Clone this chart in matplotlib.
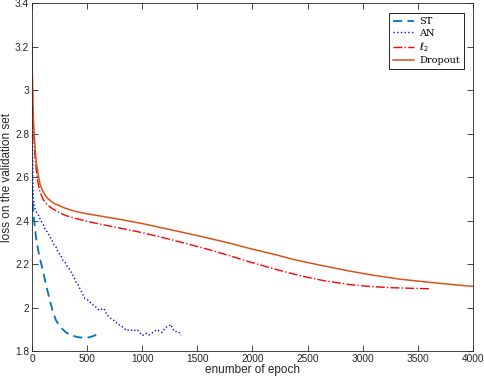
import numpy as np
import matplotlib.pyplot as plt

# ST (dashed)
st_epoch = [0, 10, 20, 40, 70, 100, 130, 160, 190, 220, 260, 300, 340, 375, 420, 460, 500, 530, 570, 600, 630]
st_loss = [2.55, 2.45, 2.40, 2.31, 2.23, 2.17, 2.10, 2.04, 1.98, 1.94, 1.91, 1.89, 1.876, 1.87, 1.864, 1.862, 1.862, 1.865, 1.872, 1.878, 1.883]

# AN (dotted, noisy)
an_epoch = [0, 5, 10, 20, 40, 60, 80, 100, 120, 140, 160, 180, 200, 220, 240, 260, 280, 300,
            320, 340, 360, 380, 400, 420, 440, 460, 480, 500, 520, 540, 560, 580, 600, 620,
            640, 660, 680, 700, 720, 740, 760, 780, 800, 820, 840, 860, 880, 900, 920, 940,
            960, 980, 1000, 1020, 1040, 1060, 1080, 1100, 1120, 1140, 1160, 1180, 1200, 1220,
            1240, 1260, 1280, 1300, 1320, 1340, 1355]
an_loss = [3.05, 2.75, 2.52, 2.465, 2.44, 2.425, 2.40, 2.385, 2.36, 2.348, 2.33, 2.312, 2.29,
           2.278, 2.252, 2.243, 2.218, 2.208, 2.19, 2.178, 2.158, 2.142, 2.118, 2.104, 2.082,
           2.063, 2.042, 2.038, 2.026, 2.022, 2.008, 2.003, 1.992, 1.988, 1.997, 1.99, 1.966,
           1.958, 1.948, 1.943, 1.932, 1.928, 1.916, 1.912, 1.903, 1.894, 1.899, 1.896, 1.9,
           1.893, 1.896, 1.884, 1.872, 1.876, 1.882, 1.874, 1.88, 1.887, 1.894, 1.898, 1.889,
           1.886, 1.901, 1.911, 1.914, 1.923, 1.9, 1.889, 1.891, 1.883, 1.872]

# l2 (dash-dot)
l2_epoch = [0, 3, 6, 10, 15, 22, 30, 40, 57, 75, 100, 130, 178, 240, 299, 400, 500, 662, 800,
            1000, 1191, 1400, 1600, 1800, 1978, 2200, 2431, 2650, 2885, 3050, 3248, 3450, 3610]
l2_loss = [3.2, 3.08, 2.98, 2.89, 2.81, 2.74, 2.68, 2.63, 2.57, 2.53, 2.50, 2.478, 2.458, 2.44,
           2.425, 2.41, 2.397, 2.38, 2.366, 2.345, 2.322, 2.295, 2.268, 2.238, 2.21, 2.178,
           2.147, 2.124, 2.106, 2.098, 2.092, 2.089, 2.087]

# Dropout (solid)
do_epoch = [0, 3, 6, 10, 15, 24, 32, 42, 57, 75, 100, 130, 160, 200, 299, 400, 500, 662, 800,
            1000, 1191, 1400, 1600, 1800, 1978, 2200, 2371, 2600, 2885, 3100, 3339, 3600, 3800, 4000]
do_loss = [3.22, 3.1, 3.0, 2.92, 2.85, 2.77, 2.71, 2.66, 2.61, 2.565, 2.535, 2.51, 2.495, 2.48,
           2.458, 2.442, 2.432, 2.418, 2.406, 2.387, 2.366, 2.343, 2.32, 2.296, 2.272, 2.245,
           2.222, 2.197, 2.168, 2.149, 2.131, 2.117, 2.107, 2.098]

plt.rcParams['font.family'] = ['Liberation Sans', 'DejaVu Sans']

fig = plt.figure(figsize=(4.84, 3.8), dpi=100)
ax = fig.add_axes([0.066, 0.076, 0.911, 0.915])

ax.plot(st_epoch, st_loss, '--', color=(0.0, 0.447, 0.741), lw=1.3, dashes=(5, 3), label='ST')
ax.plot(an_epoch, an_loss, ':', color=(0, 0, 1), lw=1.0, label='AN')
ax.plot(l2_epoch, l2_loss, '-.', color=(1, 0, 0), lw=1.0, label=r'$\ell_2$')
ax.plot(do_epoch, do_loss, '-', color=(0.85, 0.325, 0.098), lw=1.1, label='Dropout')

ax.set_xlim(0, 4000)
ax.set_ylim(1.8, 3.4)
ax.set_xticks(np.arange(0, 4001, 500))
ax.set_yticks(np.arange(1.8, 3.41, 0.2))
ax.set_yticklabels(['1.8', '2', '2.2', '2.4', '2.6', '2.8', '3', '3.2', '3.4'])

gray = (0.15, 0.15, 0.15)
for s in ax.spines.values():
    s.set_color(gray)
    s.set_linewidth(0.6)
ax.tick_params(direction='in', top=True, right=True, length=4, width=0.6,
               colors=gray, labelsize=7.3, pad=2)

ax.set_xlabel('enumber of epoch', fontsize=8.5, color=gray, labelpad=0)
ax.set_ylabel('loss on the validation set', fontsize=8.5, color=gray)
ax.yaxis.set_label_coords(-0.043, 0.5)

leg = ax.legend(loc='upper right', bbox_to_anchor=(0.99, 0.985), fancybox=False,
                framealpha=1, edgecolor='black', handlelength=2.2,
                labelspacing=0.25, borderpad=0.4, handletextpad=0.5,
                prop={'family': 'DejaVu Serif', 'size': 7})
leg.get_frame().set_linewidth(0.6)

fig.savefig('out.png', dpi=100)
